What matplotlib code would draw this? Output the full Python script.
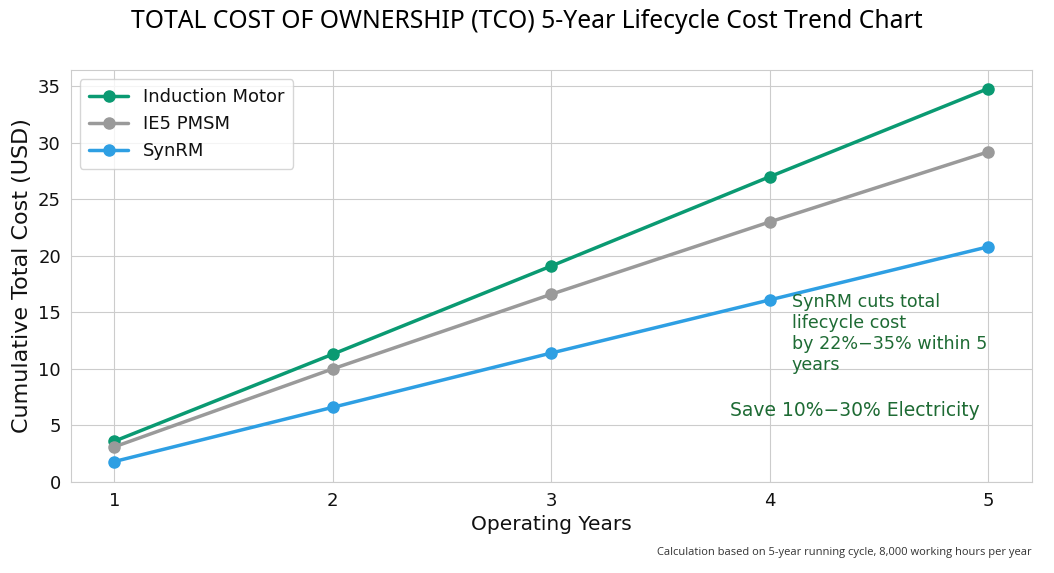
import matplotlib
matplotlib.use("Agg")
import matplotlib.pyplot as plt
import seaborn as sns

# data
years = [1, 2, 3, 4, 5]
induction_motor = [3.6, 11.3, 19.1, 27.0, 34.8]
ie5_pmsm = [3.1, 10.0, 16.6, 23.0, 29.2]
synrm = [1.8, 6.6, 11.4, 16.1, 20.8]

sns.set_style("whitegrid")
plt.rcParams['font.family'] = ['DejaVu Sans']
plt.rcParams['text.color'] = '#111111'
plt.rcParams['axes.labelcolor'] = '#111111'
plt.rcParams['xtick.color'] = '#111111'
plt.rcParams['ytick.color'] = '#111111'

fig, ax = plt.subplots(figsize=(10.54, 5.73), dpi=100)
fig.subplots_adjust(left=0.067, right=0.979, top=0.878, bottom=0.159)

ax.plot(years, induction_motor, marker='o', color='#0a9a72', lw=2.5, ms=8, label='Induction Motor')
ax.plot(years, ie5_pmsm, marker='o', color='#9a9a9a', lw=2.5, ms=8, label='IE5 PMSM')
ax.plot(years, synrm, marker='o', color='#2e9fe3', lw=2.5, ms=8, label='SynRM')

ax.set_ylim(bottom=0)
ax.set_xticks(years)
ax.tick_params(labelsize=13)
ax.set_xlabel('Operating Years', fontsize=14.5)
ax.set_ylabel('Cumulative Total Cost (USD)', fontsize=16)
for s in ax.spines.values():
    s.set_color('#cccccc')

ax.legend(loc='upper left', fontsize=13, frameon=True, handlelength=2.2,
          borderpad=0.5, labelspacing=0.5)

ax.text(4.1, 16.7, 'SynRM cuts total\nlifecycle cost\nby 22%\u221235% within 5\nyears',
        color='#1e6b34', fontsize=12.6, va='top', ha='left', linespacing=1.2)
ax.text(4.96, 6.3, 'Save 10%\u221230% Electricity', color='#1e6b34', fontsize=13.5,
        va='center', ha='right')

fig.suptitle('TOTAL COST OF OWNERSHIP (TCO) 5-Year Lifecycle Cost Trend Chart', fontsize=17.8,
             y=0.985, family=['Noto Sans', 'DejaVu Sans'], color='black')
fig.text(0.979, 0.035, 'Calculation based on 5-year running cycle, 8,000 working hours per year',
         ha='right', va='center', fontsize=8, color='#333333', family=['Open Sans', 'DejaVu Sans'])

fig.savefig('out.png', dpi=100)
